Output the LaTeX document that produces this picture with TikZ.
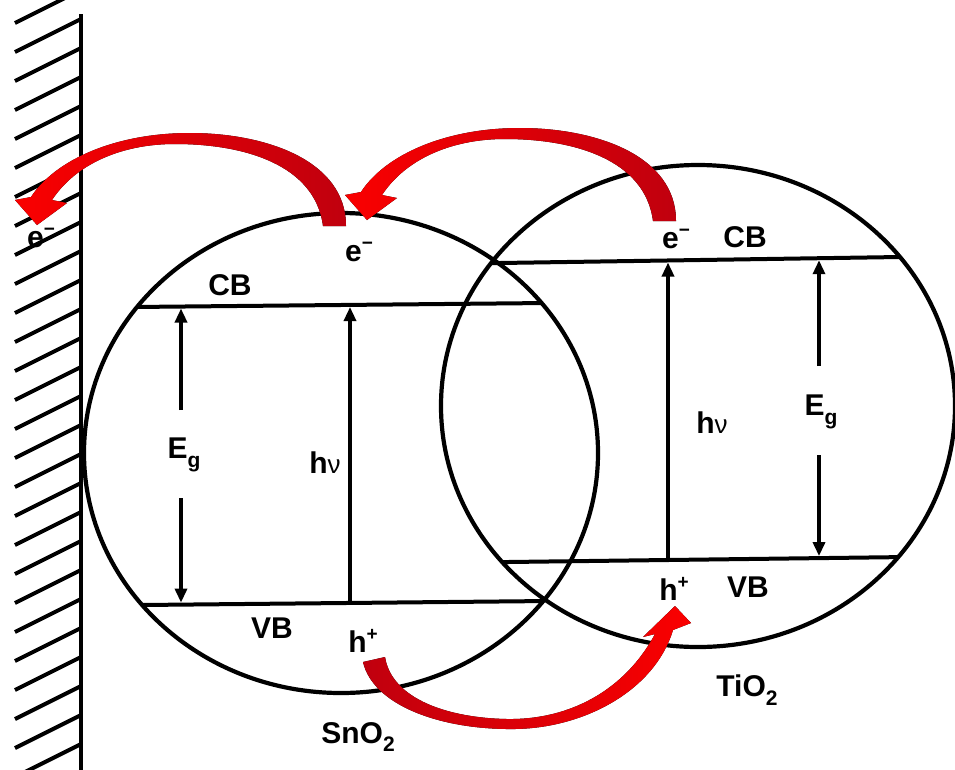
\documentclass[tikz,border=0pt]{standalone}
\usepackage{fontspec}
\setmainfont{Liberation Sans}
\usetikzlibrary{arrows.meta}
\newcommand{\supx}[1]{\raisebox{0.42em}{\fontsize{19}{19}\selectfont #1}}
\newcommand{\subx}[1]{\raisebox{-0.28em}{\fontsize{21}{21}\selectfont #1}}
\newcommand{\hnu}{h{\fontseries{m}\fontsize{26}{30}\selectfont ν}}
\definecolor{tailred}{RGB}{192,0,14}
\definecolor{headred}{RGB}{250,0,0}
\begin{document}
\begin{tikzpicture}[x=1pt,y=-1pt,
  lbl/.style={font=\fontsize{30}{34}\selectfont\bfseries, inner sep=0pt},
  ring/.style={line width=4.2pt},
  band/.style={line width=4pt},
  hatchline/.style={line width=4pt},
  gaparrow/.style={line width=3.3pt, -{Triangle[length=14pt,width=12pt]}},
  elarrow/.pic={
    \fill[left color=headred, right color=tailred]
      (323,226) -- (346,226)
      .. controls (346,160) and (265,133) .. (190,133)
      .. controls (115,133) and (55,160) .. (31,197)
      -- (15,200) -- (37,225) -- (67,203) -- (52,200)
      .. controls (75,165) and (120,144) .. (175,144)
      .. controls (245,144) and (315,165) .. (323,226) -- cycle;
  }
]
\useasboundingbox (0,0) rectangle (955,769);

% electrode wall with hatching
\begin{scope}
  \clip (0,0) rectangle (81,769);
  \foreach \yy in {23,52,...,790}
    \draw[hatchline] (15,\yy) -- (81,\yy-33);
\end{scope}
\draw[line width=4.5pt] (81,14) -- (81,772);

% particles
\draw[ring] (341,453) ellipse [x radius=257pt, y radius=240pt];
\draw[ring] (698,406) ellipse [x radius=257pt, y radius=241pt];

% band edges
\begin{scope}
  \clip (341,453) ellipse [x radius=257pt, y radius=240pt];
  \draw[band] (60,307.7) -- (620,302.3);
  \draw[band] (60,605.8) -- (620,600.3);
\end{scope}
\begin{scope}
  \clip (698,406) ellipse [x radius=257pt, y radius=241pt];
  \draw[band] (420,264.2) -- (980,255.8);
  \draw[band] (420,563.1) -- (980,556.1);
\end{scope}

% labels SnO2
\node[lbl] (eWall) at (41,238) {e\supx{−}};
\node[lbl] (eSn) at (359,252) {e\supx{−}};
\node[lbl] (cbSn) at (230,285) {CB};
\node[lbl] (vbSn) at (272,628) {VB};
\node[lbl] (hSn) at (363,641) {h\supx{+}};
\node[lbl] (egSn) at (184,455) {E\subx{g}};
\node[lbl] (hvSn) at (325,463) {\hnu};
\node[lbl] (sn) at (358,737) {SnO\subx{2}};
% labels TiO2
\node[lbl] (eTi) at (676,239) {e\supx{−}};
\node[lbl] (cbTi) at (745,237) {CB};
\node[lbl] (hTi) at (674,589) {h\supx{+}};
\node[lbl] (vbTi) at (748,587) {VB};
\node[lbl] (egTi) at (821,412) {E\subx{g}};
\node[lbl] (hvTi) at (712,423) {\hnu};
\node[lbl] (ti) at (747,690) {TiO\subx{2}};

% arrow end points
\coordinate (snEgTop) at (181,308.5);
\coordinate (snEgUp) at (181,410);
\coordinate (snEgLow) at (181,498);
\coordinate (snEgBot) at (181,602.6);
\coordinate (snHvBot) at (350,603);
\coordinate (snHvTop) at (350,307);
\coordinate (tiEgTop) at (819,260.2);
\coordinate (tiEgUp) at (819,366);
\coordinate (tiEgLow) at (819,455);
\coordinate (tiEgBot) at (819,556.1);
\coordinate (tiHvBot) at (668,560);
\coordinate (tiHvTop) at (668,262.5);

\draw[gaparrow] (snEgUp) -- (snEgTop);
\draw[gaparrow] (snEgLow) -- (snEgBot);
\draw[gaparrow] (snHvBot) -- (snHvTop);
\draw[gaparrow] (tiEgUp) -- (tiEgTop);
\draw[gaparrow] (tiEgLow) -- (tiEgBot);
\draw[gaparrow] (tiHvBot) -- (tiHvTop);

% red transfer arrows
\pic at (0,0) {elarrow};
\pic at (330,-5) {elarrow};
\fill[left color=tailred, right color=headred]
  (363,662) -- (385,657)
  .. controls (392,700) and (450,718) .. (507,719)
  .. controls (570,720) and (625,690) .. (655,634)
  -- (643,637) -- (675,606) -- (691,623) -- (673,630)
  .. controls (655,690) and (585,728) .. (515,729)
  .. controls (440,730) and (373,705) .. (363,662) -- cycle;
\end{tikzpicture}
\end{document}
